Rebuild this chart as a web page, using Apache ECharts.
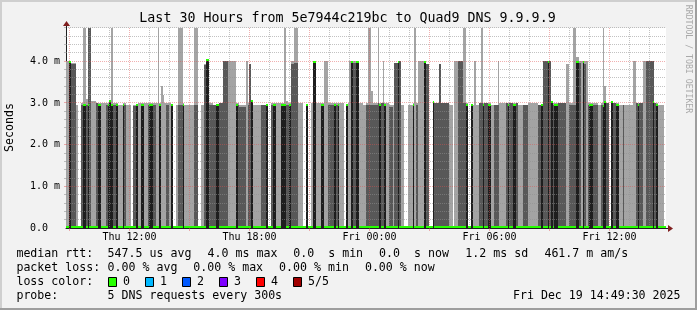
<!DOCTYPE html>
<html>
<head>
<meta charset="utf-8">
<script src="https://cdn.jsdelivr.net/npm/echarts@6/dist/echarts.min.js"></script>
<style>
html,body{margin:0;padding:0;background:#f2f2f2;}
#c{width:697px;height:310px;}
</style>
</head>
<body>
<div id="c"></div>
<script>
// ---------- data ----------
// time: minutes since Thu 00:00; first sample Thu 08:49:30, 5-minute steps, 360 steps (30 h)
const firstMinute = 529.5;
const stepMinutes = 5;
const totalSteps = 360;

// start step of each run of identical readings (a run lasts until the next start)
const runStart = [0,2,3,6,7,9,10,12,13,14,15,18,19,21,24,25,26,27,28,30,31,34,35,36,39,40,42,43,45,47,49,50,52,54,55,56,57,58,59,60,62,63,64,66,67,70,71,77,79,81,83,84,86,88,90,92,94,97,102,103,104,108,109,110,111,112,117,120,121,123,124,126,129,131,132,133,134,135,137,139,142,144,145,147,148,150,153,155,157,161,162,163,164,167,168,169,170,171,172,174,176,178,180,181,183,184,187,188,189,190,191,192,194,196,197,199,200,201,203,205,208,209,210,211,215,216,218,220,221,224,225,230,232,233,235,238,240,241,243,244,245,246,248,249,250,251,253,255,257,259,260,264,265,266,268,270,271,274,277,283,285,286,289,290,291,292,293,295,300,302,304,306,308,309,310,311,312,313,314,316,319,321,322,323,324,326,327,328,330,332,334,335,340,342,343,344,346,348,352,353,354,355,359];

// outer smoke top (slowest ping), ms
const smokeOuter = [
4.0,4.0,3.95,2.95,0,3.0,4.8,3.1,4.8,4.8,
3.05,3.0,3.0,3.0,3.0,3.0,3.05,4.8,3.0,3.0,
2.95,3.0,3.0,2.95,0,2.95,2.95,3.0,3.0,3.0,
3.0,3.0,3.0,3.0,4.8,3.0,3.4,3.2,3.0,3.0,
3.0,2.95,0,2.95,4.8,3.0,2.95,4.8,0,2.95,
3.93,4.0,3.0,2.95,2.95,3.0,4.0,4.0,3.0,3.0,
2.95,4.0,3.0,3.93,3.02,2.95,2.95,2.95,0,3.0,
3.0,3.0,3.0,4.8,3.05,3.0,3.0,4.0,4.8,3.0,
0,2.95,0,3.0,3.95,3.0,3.0,4.0,3.0,3.0,
3.0,3.0,3.0,0,2.95,3.0,4.0,4.0,4.0,4.0,
3.0,2.95,3.0,4.8,3.3,3.0,4.8,3.0,3.0,4.0,
3.0,3.0,2.95,2.95,3.95,3.95,4.0,2.95,0,2.95,
3.0,4.8,3.0,4.0,3.95,3.93,0,3.0,3.0,3.93,
3.0,2.95,0,4.0,4.0,4.8,3.0,0,2.95,2.95,
4.0,2.95,3.0,4.8,3.0,3.0,3.0,2.95,2.95,4.0,
3.0,3.0,3.0,3.0,3.0,3.0,2.95,2.95,3.0,2.95,
2.95,4.0,4.0,4.0,3.0,3.0,3.0,3.0,3.93,3.0,
4.8,4.1,4.0,4.0,4.0,4.0,4.0,3.0,3.0,3.0,
2.95,3.0,4.8,3.4,3.0,0,3.0,3.0,3.0,2.95,
2.95,2.95,4.0,3.0,3.0,3.0,4.0,4.0,4.0,3.0,
3.0,2.95,0];

// inner smoke top, ms
const smokeInner = [
0,3.95,3.93,0,0,2.95,2.93,2.95,4.8,4.8,
0,3.0,2.93,0,2.95,2.93,3.02,2.93,2.95,2.93,
0,2.93,2.95,0,0,2.93,2.93,0,2.93,0,
2.95,2.93,2.95,0,0,2.93,0,0,0,2.95,
0,2.93,0,0,2.95,2.93,0,2.95,0,0,
3.9,4.0,2.95,2.95,2.93,3.0,4.0,0,2.93,2.95,
2.9,0,2.95,3.93,3.02,0,2.95,2.93,0,2.95,
2.93,0,2.93,2.93,2.95,2.95,2.93,3.93,3.97,0,
0,2.93,0,0,3.95,0,2.93,0,2.95,2.93,
2.95,2.93,0,0,2.93,0,0,3.95,3.95,3.95,
0,0,2.95,2.95,2.95,2.95,3.0,2.93,3.0,3.0,
2.93,0,2.9,0,3.95,3.95,4.0,0,0,0,
2.93,0,2.95,0,3.95,3.93,0,3.0,3.0,3.93,
3.0,0,0,0,4.0,3.0,2.93,0,2.93,0,
0,0,3.0,3.0,2.93,3.0,2.93,0,2.95,2.95,
0,3.0,2.93,3.0,2.93,3.0,0,2.95,0,2.95,
2.93,4.0,3.95,4.0,3.0,2.95,2.93,3.0,0,2.95,
2.95,3.95,3.97,0,3.95,3.93,0,2.95,2.93,2.95,
0,2.95,2.9,3.0,3.0,0,3.0,3.0,2.93,0,
2.95,0,0,3.0,2.93,3.0,0,4.0,4.0,3.0,
2.93,0,0];

// median rtt, ms
const medianMs = [
0,3.95,0,0,0,0,2.93,0,2.93,0,
0,0,2.93,0,0,2.93,3.02,2.93,0,2.93,
0,2.93,0,0,0,0,2.93,0,2.93,0,
0,2.93,0,0,0,2.93,0,0,0,0,
0,2.93,0,0,0,2.93,0,0,0,0,
0,4.0,0,0,2.93,0,0,0,2.93,0,
0,0,0,0,3.02,0,0,2.93,0,0,
2.93,0,2.93,2.93,0,0,2.93,0,0,0,
0,2.93,0,0,3.95,0,2.93,0,0,2.93,
0,2.93,0,0,2.93,0,0,3.95,0,3.95,
0,0,0,0,0,0,0,2.93,0,0,
2.93,0,0,0,0,3.95,0,0,0,0,
2.93,0,0,0,3.95,0,0,3.0,0,0,
0,0,0,0,0,0,2.93,0,2.93,0,
0,0,0,0,2.93,0,2.93,0,0,0,
0,0,2.93,0,2.93,0,0,0,0,0,
2.93,0,3.95,0,3.0,0,2.93,0,0,0,
0,3.95,0,0,3.95,0,0,0,2.93,0,
0,0,2.9,3.0,0,0,3.0,0,2.93,0,
0,0,0,0,2.93,0,0,0,3.0,0,
2.93,0,0];

const xTickMinutes = [720, 1080, 1440, 1800, 2160];
const xTickLabels = ['Thu 12:00', 'Thu 18:00', 'Fri 00:00', 'Fri 06:00', 'Fri 12:00'];
const yMaxMs = 4.8;

const titleText = 'Last 30 Hours from 5e7944c219bc to Quad9 DNS 9.9.9.9';
const rttStats = ['547.5 us avg', '4.0 ms max', '0.0  s min', '0.0  s now', '1.2 ms sd', '461.7 m am/s'];
const lossStats = ['0.00 % avg', '0.00 % max', '0.00 % min', '0.00 % now'];
const lossLabels = ['0', '1', '2', '3', '4', '5/5'];
const lossColors = ['#26ff00', '#00b8ff', '#0059ff', '#7e00ff', '#ff0000', '#a00000'];
const probeText = '5 DNS requests every 300s';
const dateText = 'Fri Dec 19 14:49:30 2025';

// ---------- layout / style ----------
const FONT = '"DejaVu Sans Mono", monospace';
const GRID_COL = 'rgba(143,143,143,0.55)';
const MGRID_COL = 'rgba(222,79,79,0.45)';
const AXIS_COL = '#1f1f1f';
const ARROW_COL = '#801f1f';
const rttX = [107.6, 207.6, 293.3, 379.1, 465.3, 544.4];
const lossX = [107.6, 193.3, 279.1, 364.9];
const rowY = [254, 268, 282, 296];

const tStart = firstMinute;
const tEnd = firstMinute + stepMinutes * totalSteps;

const runs = runStart.map((s, i) => [
  firstMinute + stepMinutes * s,
  firstMinute + stepMinutes * (i + 1 < runStart.length ? runStart[i + 1] : totalSteps),
  smokeOuter[i], smokeInner[i], medianMs[i]
]);

const gridItems = [];
for (let m = Math.ceil(tStart / 60) * 60; m < tEnd; m += 60) gridItems.push([0, m, m % 180 === 0 ? 1 : 0]);
for (let k = 1; k <= Math.round(yMaxMs / 0.2); k++) gridItems.push([1, +(k * 0.2).toFixed(1), k % 5 === 0 ? 1 : 0]);

function renderSmoke(params, api) {
  const t0 = api.value(0), t1 = api.value(1);
  const xa = Math.round(api.coord([t0, 0])[0]);
  const xb = Math.round(api.coord([t1, 0])[0]);
  const yb = Math.round(api.coord([t0, 0])[1]);
  const children = [];
  const layer = (v, color) => {
    if (!(v > 0)) return;
    const yt = Math.round(api.coord([t0, v])[1]);
    children.push({ type: 'rect', shape: { x: xa, y: yt, width: xb - xa, height: yb - yt }, style: { fill: color } });
  };
  layer(api.value(2), '#a4a4a4');
  layer(api.value(3), '#585858');
  layer(api.value(4), '#1e1e1e');
  return { type: 'group', children };
}

function renderMedian(params, api) {
  const t0 = api.value(0), t1 = api.value(1), m = api.value(4);
  const xa = Math.round(api.coord([t0, 0])[0]);
  const xb = Math.round(api.coord([t1, 0])[0]);
  const y = Math.round(api.coord([t0, m])[1]);
  return { type: 'rect', shape: { x: xa, y: y - 2, width: xb - xa, height: 2 }, style: { fill: '#26ff00' } };
}

function renderGrid(params, api) {
  const kind = api.value(0), v = api.value(1), major = api.value(2);
  const cs = params.coordSys;
  const color = major ? MGRID_COL : GRID_COL;
  const children = [];
  if (kind === 0) {
    const x = Math.floor(api.coord([v, 0])[0]) + 0.5;
    children.push({ type: 'line', shape: { x1: x, y1: cs.y, x2: x, y2: cs.y + cs.height }, style: { stroke: color, lineWidth: 1, lineDash: [1, 1] } });
    if (major) children.push({ type: 'line', shape: { x1: x, y1: cs.y + cs.height, x2: x, y2: cs.y + cs.height + 3 }, style: { stroke: MGRID_COL, lineWidth: 1 } });
  } else {
    const y = Math.floor(api.coord([tStart, v])[1]) + 0.5;
    children.push({ type: 'line', shape: { x1: cs.x, y1: y, x2: cs.x + cs.width, y2: y }, style: { stroke: color, lineWidth: 1, lineDash: [1, 1] } });
    children.push({ type: 'line', shape: { x1: cs.x - 2, y1: y, x2: cs.x, y2: y }, style: { stroke: color, lineWidth: 1 } });
  }
  return { type: 'group', children };
}

const chart = echarts.init(document.getElementById('c'), null, { renderer: 'canvas', width: 697, height: 310 });

const textEl = (text, x, y, opts = {}) => ({
  type: 'text', x, y, rotation: opts.rotation || 0, z: 100,
  style: { text, font: (opts.size || 11.6) + 'px ' + FONT, fill: opts.fill || '#000', align: opts.align || 'left', verticalAlign: 'middle' }
});

const graphics = [];
// frame
graphics.push({ type: 'rect', shape: { x: 0, y: 0, width: 697, height: 2 }, style: { fill: '#cfcfcf' }, z: 100 });
graphics.push({ type: 'rect', shape: { x: 0, y: 0, width: 2, height: 310 }, style: { fill: '#cfcfcf' }, z: 100 });
graphics.push({ type: 'rect', shape: { x: 0, y: 308, width: 697, height: 2 }, style: { fill: '#9e9e9e' }, z: 100 });
graphics.push({ type: 'rect', shape: { x: 695, y: 0, width: 2, height: 310 }, style: { fill: '#9e9e9e' }, z: 100 });
// title, unit label, watermark
graphics.push(textEl(titleText, 347.5, 19, { size: 13.3, align: 'center' }));
graphics.push(textEl('Seconds', 10, 127.5, { size: 11.6, align: 'center', rotation: Math.PI / 2 }));
graphics.push(textEl('RRDTOOL / TOBI OETIKER', 688, 59, { size: 8.2, align: 'center', rotation: -Math.PI / 2, fill: '#a9a9a9' }));
// legend rows
graphics.push(textEl('median rtt:', 16.4, rowY[0]));
rttStats.forEach((s, i) => graphics.push(textEl(s, rttX[i], rowY[0])));
graphics.push(textEl('packet loss:', 16.4, rowY[1]));
lossStats.forEach((s, i) => graphics.push(textEl(s, lossX[i], rowY[1])));
graphics.push(textEl('loss color:', 16.4, rowY[2]));
lossLabels.forEach((s, i) => {
  const bx = 108 + i * 37;
  graphics.push({ type: 'rect', shape: { x: bx + 0.5, y: rowY[2] - 4.5, width: 8, height: 9 }, style: { fill: lossColors[i], stroke: '#000', lineWidth: 1 }, z: 100 });
  graphics.push(textEl(s, bx + 15, rowY[2]));
});
graphics.push(textEl('probe:', 16.4, rowY[3]));
graphics.push(textEl(probeText, 107.6, rowY[3]));
graphics.push(textEl(dateText, 680.5, rowY[3], { align: 'right' }));

chart.setOption({
  animation: false,
  backgroundColor: '#f2f2f2',
  grid: { left: 66, top: 28, width: 600, height: 200, show: true, backgroundColor: '#ffffff', borderWidth: 0 },
  xAxis: {
    type: 'value', min: tStart, max: tEnd,
    axisLine: { show: true, lineStyle: { color: AXIS_COL, width: 1 } },
    axisTick: { show: false }, splitLine: { show: false },
    axisLabel: {
      customValues: xTickMinutes,
      formatter: v => xTickLabels[xTickMinutes.indexOf(v)] || '',
      margin: 4, fontFamily: FONT, fontSize: 10, color: '#000'
    }
  },
  yAxis: {
    type: 'value', min: 0, max: yMaxMs, interval: 0.2,
    axisLine: { show: true, lineStyle: { color: AXIS_COL, width: 1 } },
    axisTick: { show: false }, splitLine: { show: false },
    axisLabel: {
      margin: 6, fontFamily: FONT, fontSize: 10, color: '#000',
      formatter: v => {
        if (Math.abs(v - Math.round(v)) > 1e-6) return '';
        return Math.round(v) === 0 ? '0.0  ' : Math.round(v).toFixed(1) + ' m';
      }
    }
  },
  series: [
    { type: 'custom', name: 'smoke', data: runs, renderItem: renderSmoke, z: 2, clip: true, silent: true },
    { type: 'custom', name: 'grid', data: gridItems, renderItem: renderGrid, z: 3, silent: true },
    { type: 'custom', name: 'median', data: runs, renderItem: renderMedian, z: 4, clip: true, silent: true }
  ],
  graphic: { elements: graphics }
});

// axis extensions and arrows (positioned through the chart's own scales)
const o = chart.convertToPixel({ gridIndex: 0 }, [tStart, 0]);
const xe = chart.convertToPixel({ gridIndex: 0 }, [tEnd, 0]);
const ye = chart.convertToPixel({ gridIndex: 0 }, [tStart, yMaxMs]);
const ax = Math.round(o[0]) + 0.5, ay = Math.round(o[1]) + 0.5;
graphics.push({ type: 'line', shape: { x1: xe[0], y1: ay, x2: xe[0] + 3, y2: ay }, style: { stroke: AXIS_COL, lineWidth: 1 }, z: 100 });
graphics.push({ type: 'polygon', shape: { points: [[xe[0] + 2, ay - 3.5], [xe[0] + 2, ay + 3.5], [xe[0] + 7, ay]] }, style: { fill: ARROW_COL }, z: 100 });
graphics.push({ type: 'line', shape: { x1: ax, y1: ye[1], x2: ax, y2: ye[1] - 3 }, style: { stroke: AXIS_COL, lineWidth: 1 }, z: 100 });
graphics.push({ type: 'polygon', shape: { points: [[ax - 3.5, ye[1] - 2], [ax + 3.5, ye[1] - 2], [ax, ye[1] - 7]] }, style: { fill: ARROW_COL }, z: 100 });
chart.setOption({ graphic: { elements: graphics } }, { replaceMerge: ['graphic'] });
</script>
</body>
</html>
